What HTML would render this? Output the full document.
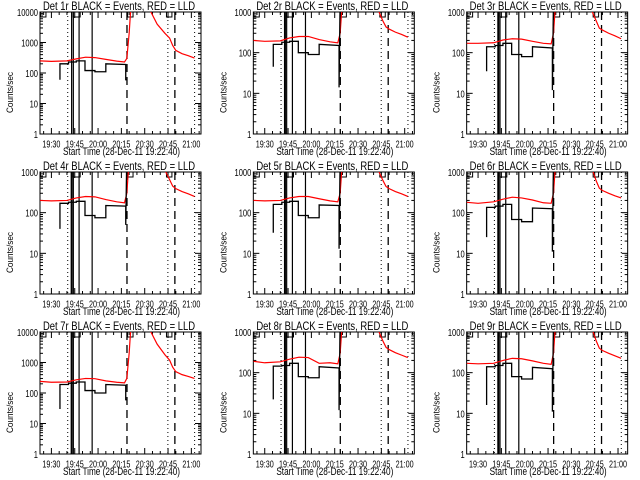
<!DOCTYPE html>
<html><head><meta charset="utf-8">
<style>
html,body{margin:0;padding:0;background:#fff;}
svg{display:block;font-family:"Liberation Sans",sans-serif;}
</style></head>
<body>
<svg id="chart" width="640" height="480" viewBox="0 0 640 480"></svg>
<script>
// shared time axes (minutes after 19:00)
const xTickLabels = ["19:30","19:45","20:00","20:15","20:30","20:45","21:00"];
const xTickMinutes = [30,45,60,75,90,105,120];
const redT = [22.7,30,40,46,52,58,65,72,77,78.5,80,81.5,94,98,103,106,108,110,114,118,122];
const blackT = [35.5,35.5,41,41,46,46,51.6,51.6,58,58,65,65,77.8,77.8,78.6];
const dottedT = [40.5,104.9,122.1];
const solidT = [43.0,44.1,47.8,56.2];
const dashedT = [78.6,109.4];
const bracketStart = [23,44,79,104];
const bracketEnd = [26.5,48.5,82.5,107.5];
const panelNames = ["1r","2r","3r","4r","5r","6r","7r","8r","9r"];
const panelYMax = [10000,1000,1000,1000,1000,1000,10000,1000,1000];
const black1 = [60,200,200,230,230,250,250,120,120,110,110,200,190,60,60];
const black2 = [45,160,160,180,180,190,190,100,100,90,90,160,150,14,5000];
const black3 = [35,140,140,150,150,170,170,90,90,80,80,140,130,12,5000];
const black4 = [40,170,170,180,180,190,190,85,85,75,75,150,145,50,5000];
const black5 = [32,160,160,180,180,190,190,85,85,75,75,155,150,13,5000];
const black6 = [25,135,135,145,145,160,160,68,68,60,60,130,125,11,5000];
const black7 = [30,190,190,210,210,230,230,120,120,100,100,190,180,60,60];
const black8 = [22,145,145,150,150,170,170,80,80,75,75,140,130,12,5000];
const black9 = [16,140,140,150,150,170,170,80,80,70,70,135,125,11,5000];
const red1 = [250,240,250,290,330,320,280,245,230,300,2000,30000,10000,4000,2000,1400,800,550,430,370,310];
const red2 = [200,190,195,230,250,250,210,185,175,300,2000,30000,30000,8000,1100,600,430,380,320,280,240];
const red3 = [170,170,175,205,220,215,190,170,165,300,2000,30000,30000,8000,1100,600,400,360,300,260,220];
const red4 = [200,195,200,230,250,245,210,185,175,300,2000,30000,30000,8000,1100,650,450,390,330,290,250];
const red5 = [200,195,200,230,250,250,220,195,185,300,2000,30000,30000,8000,1100,620,440,390,330,290,250];
const red6 = [180,170,185,215,240,230,205,175,170,300,2000,30000,30000,9000,1300,600,400,350,300,260,230];
const red7 = [240,225,230,270,300,295,250,225,215,300,2000,30000,10000,4000,1800,1200,700,500,400,350,300];
const red8 = [190,175,185,215,240,235,170,175,165,300,2000,30000,30000,8000,1100,600,420,370,310,270,235];
const red9 = [170,165,170,200,225,220,195,170,160,300,2000,30000,30000,9000,1300,600,400,350,300,260,225];
const blacks = [black1,black2,black3,black4,black5,black6,black7,black8,black9];
const reds = [red1,red2,red3,red4,red5,red6,red7,red8,red9];

const NS = "http://www.w3.org/2000/svg";
const svg = document.getElementById("chart");
function mk(tag, attrs, parent){
  const e = document.createElementNS(NS, tag);
  for (const k in attrs) e.setAttribute(k, attrs[k]);
  parent.appendChild(e);
  return e;
}
const X0 = 22.667, X1 = 126.2;
const PL = 40, PR = 201, PT = 12, PB = 134;

for (let p = 0; p < 9; p++) {
  const ox = (p % 3) * 213.33, oy = Math.floor(p / 3) * 160;
  const ymax = panelYMax[p];
  const decades = Math.log10(ymax);
  const g = mk("g", {transform: `translate(${ox},${oy})`}, svg);
  
  
  const xs = t => PL + (t - X0) / (X1 - X0) * (PR - PL);
  const ys = v => PB - Math.log10(Math.max(v, 0.1)) / decades * (PB - PT);

  const clipId = "clip" + p;
  const cp = mk("clipPath", {id: clipId}, g);
  mk("rect", {x: PL, y: PT, width: PR - PL, height: PB - PT}, cp);

  const title = mk("text", {x: 43, y: 10, "font-size": 11.5, textLength: 152, lengthAdjust: "spacingAndGlyphs"}, g);
  title.textContent = "Det " + panelNames[p] + " BLACK = Events, RED = LLD";
  
  

  const yl = mk("text", {x: 0, y: 0, "font-size": 9.5, textLength: 41, lengthAdjust: "spacingAndGlyphs", transform: `translate(13,113) rotate(-90)`}, g);
  yl.textContent = "Counts/sec";
  
  

  const xt = mk("text", {x: 63, y: 155, "font-size": 11, textLength: 117, lengthAdjust: "spacingAndGlyphs"}, g);
  xt.textContent = "Start Time (28-Dec-11 19:22:40)";
  
  

  const fr = mk("rect", {x: PL, y: PT, width: PR - PL, height: PB - PT, fill: "none", stroke: "#000", "stroke-width": 1}, g);
  
  

  for (let t = 25; t <= X1; t += 5) {
    const major = xTickMinutes.includes(t);
    const L = major ? 6 : 3;
    const x = xs(t);
    mk("line", {x1: x, y1: PB, x2: x, y2: PB - L, stroke: "#000"}, g);
    mk("line", {x1: x, y1: PT, x2: x, y2: PT + L, stroke: "#000"}, g);
  }
  for (let i = 0; i < xTickLabels.length; i++) {
    const tl = mk("text", {x: xs(xTickMinutes[i]) - 9, y: 147.5, "font-size": 10.5, textLength: 18, lengthAdjust: "spacingAndGlyphs"}, g);
    tl.textContent = xTickLabels[i];
    
    
  }
  for (let d = 0; d <= decades; d++) {
    const base = Math.pow(10, d);
    const y = ys(base);
    mk("line", {x1: PL, y1: y, x2: PL + 6, y2: y, stroke: "#000"}, g);
    mk("line", {x1: PR, y1: y, x2: PR - 6, y2: y, stroke: "#000"}, g);
    const s = String(base);
    const w = s.length * 4.2;
    const lab = mk("text", {x: PL - 2 - w, y: y + 4, "font-size": 10.5, textLength: w, lengthAdjust: "spacingAndGlyphs"}, g);
    lab.textContent = s;
    
    
    if (d < decades) for (let m = 2; m <= 9; m++) {
      const ym = ys(base * m);
      mk("line", {x1: PL, y1: ym, x2: PL + 3, y2: ym, stroke: "#000"}, g);
      mk("line", {x1: PR, y1: ym, x2: PR - 3, y2: ym, stroke: "#000"}, g);
    }
  }

  const cg = mk("g", {"clip-path": `url(#${clipId})`}, g);
  dottedT.forEach(t => {
    const l = mk("line", {x1: xs(t), y1: PT, x2: xs(t), y2: PB, stroke: "#000", "stroke-dasharray": "1,3"}, cg);
    
    
  });
  solidT.forEach((t, i) => {
    const l = mk("line", {x1: xs(t), y1: PT, x2: xs(t), y2: PB, stroke: "#000", "stroke-width": (i === 0 && p > 0) ? 2 : 1.2}, cg);
    
    
  });
  dashedT.forEach(t => {
    const l = mk("line", {x1: xs(t), y1: PT, x2: xs(t), y2: PB, stroke: "#000", "stroke-width": 1.3, "stroke-dasharray": "8,5"}, cg);
    
    
  });
  for (let i = 0; i < bracketStart.length; i++) {
    const a = xs(bracketStart[i]), b = xs(bracketEnd[i]);
    const br = mk("polyline", {points: `${a},${PT} ${a},${PT+5} ${b},${PT+5} ${b},${PT}`, fill: "none", stroke: "#000"}, cg);
    
    
  }
  const rp = redT.map((t, i) => xs(t) + "," + ys(reds[p][i])).join(" ");
  const rl = mk("polyline", {points: rp, fill: "none", stroke: "#ff0000", "stroke-width": 1.2}, cg);
  
  
  const bp = blackT.map((t, i) => xs(t) + "," + ys(blacks[p][i])).join(" ");
  const bl = mk("polyline", {points: bp, fill: "none", stroke: "#000", "stroke-width": 1.3}, cg);
  
  
}
</script>
</body></html>
